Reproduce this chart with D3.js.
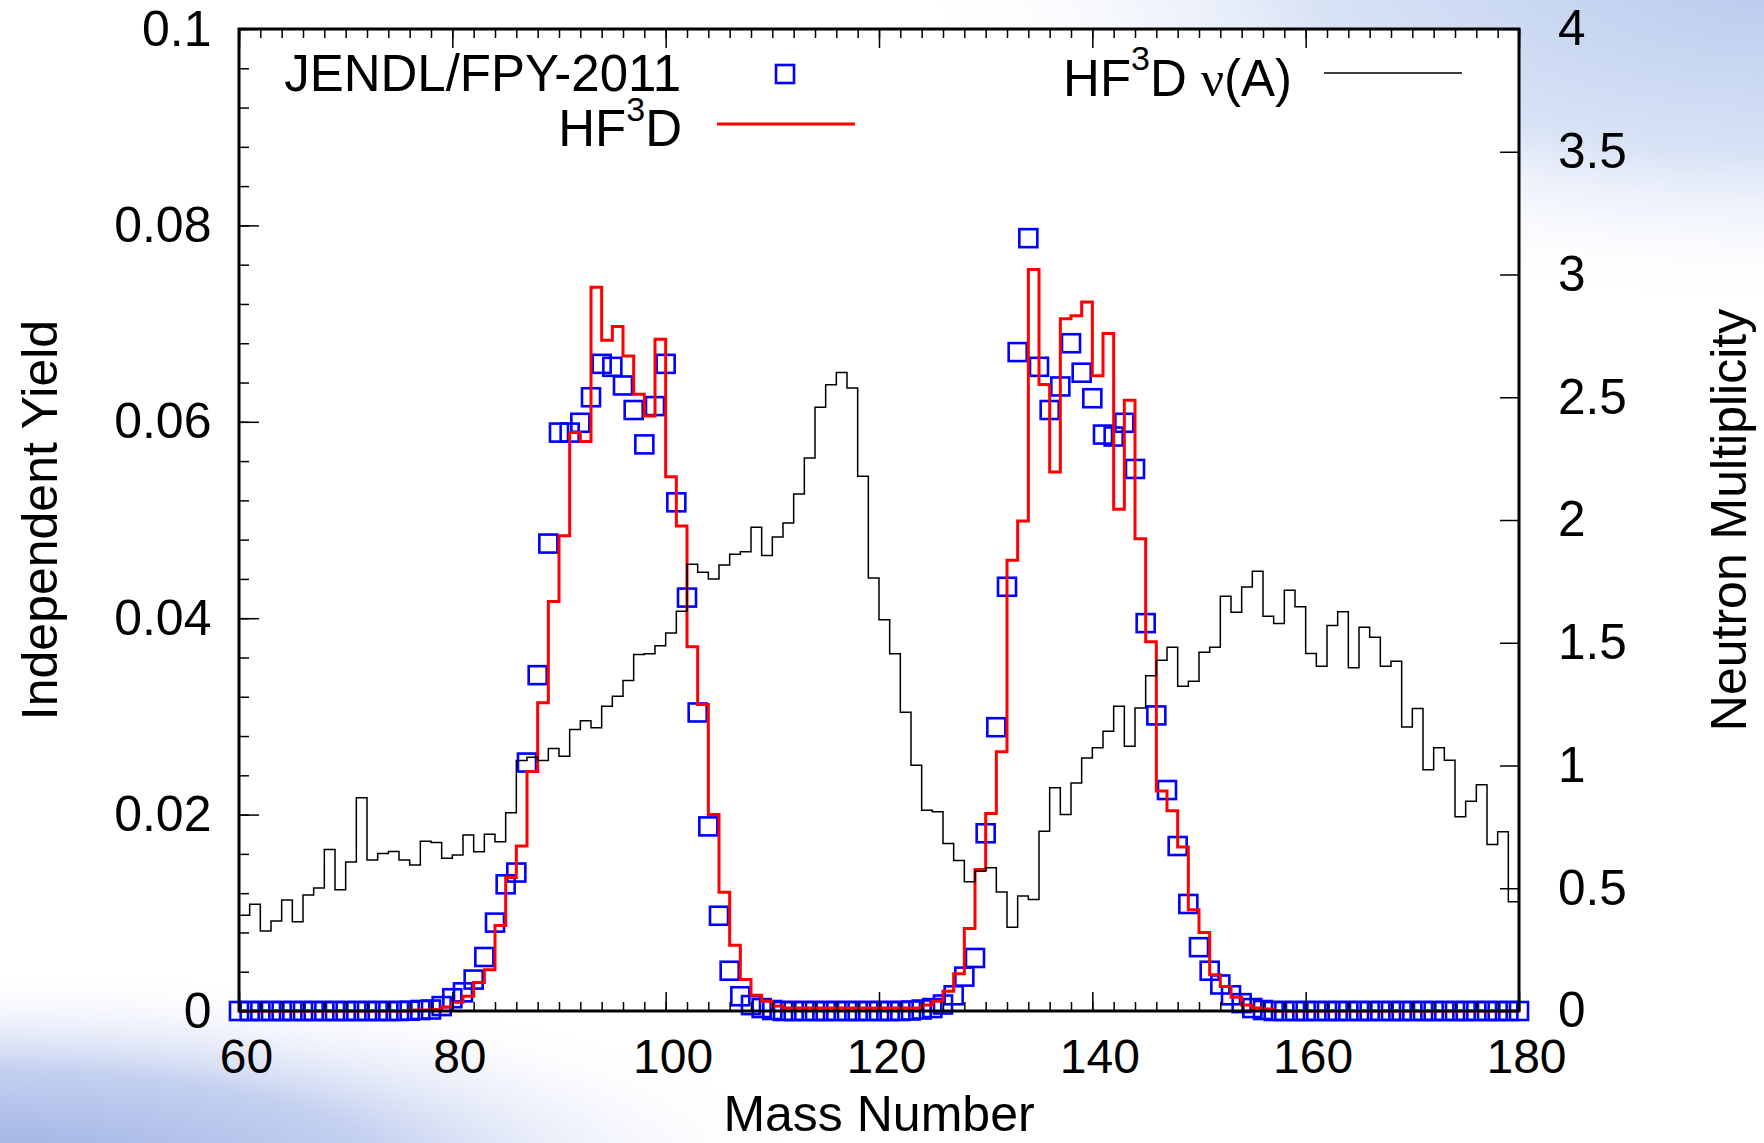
<!DOCTYPE html>
<html>
<head>
<meta charset="utf-8">
<script src="https://cdnjs.cloudflare.com/ajax/libs/d3/7.8.5/d3.min.js"></script>
<style>
  body { margin: 0; background: #fff; }
  svg { display: block; font-family: "Liberation Sans", Arial, Helvetica, sans-serif; }
</style>
</head>
<body>
<svg id="chart" width="1764" height="1143"></svg>
<script>
// mass number of first bin, JENDL points run 60..180, HF3D bins 60..179
const massStart = 60;

// JENDL/FPY-2011 independent yield, A = 60..180
const jendlYield = [
  0, 0, 0, 0, 0, 0, 0, 0, 0, 0, 0, 0, 0, 0, 0, 0,
  0.00003, 0.0001, 0.00015, 0.0005, 0.0013, 0.0019, 0.0032, 0.0055, 0.0090, 0.0129,
  0.0141, 0.0253, 0.0342, 0.0476, 0.0589, 0.0589, 0.0599, 0.0625, 0.0659, 0.0656,
  0.0637, 0.0612, 0.0577, 0.0616, 0.0659, 0.0518, 0.0421, 0.0304, 0.0188, 0.0097,
  0.0041, 0.0015, 0.0006, 0.0003, 0.0001,
  0, 0, 0, 0, 0, 0, 0, 0, 0, 0, 0, 0,
  0.00005, 0.00015, 0.0003, 0.00066, 0.0016, 0.0035, 0.0054, 0.0181, 0.0289, 0.0432,
  0.0671, 0.0787, 0.0656, 0.0612, 0.0636, 0.0680, 0.0650, 0.0624, 0.0587, 0.0585,
  0.0599, 0.0552, 0.0395, 0.0301, 0.0225, 0.0168, 0.0109, 0.0065, 0.0041, 0.0027,
  0.0016, 0.0008, 0.0003, 0.0001,
  0, 0, 0, 0, 0, 0, 0, 0, 0, 0, 0, 0, 0, 0, 0, 0, 0, 0, 0, 0, 0, 0, 0, 0
];

// HF3D independent yield, bins A = 60..179
const hf3dYield = [
  0, 0, 0, 0, 0, 0, 0, 0, 0, 0, 0, 0, 0, 0, 0, 0,
  0.0001, 0.0001, 0.00015, 0.0004, 0.0009, 0.0015, 0.0029, 0.0042, 0.0087, 0.0136,
  0.0168, 0.0244, 0.0314, 0.0417, 0.0484, 0.0589, 0.0580, 0.0737, 0.0683, 0.0697,
  0.0667, 0.0628, 0.0606, 0.0684, 0.0544, 0.0494, 0.0371, 0.0312, 0.0200, 0.0121,
  0.0067, 0.0032, 0.0016, 0.0010, 0.0005,
  0.0003, 0.0003, 0.0003, 0.0003, 0.0003, 0.0003, 0.0003, 0.0003, 0.0003, 0.0003,
  0.0003, 0.0003, 0.0003,
  0.0006, 0.0010, 0.0020, 0.0038, 0.0084, 0.0144, 0.0201, 0.0264, 0.0459, 0.0499,
  0.0755, 0.0638, 0.0549, 0.0705, 0.0708, 0.0722, 0.0647, 0.0690, 0.0511, 0.0622,
  0.0481, 0.0376, 0.0224, 0.0204, 0.0167, 0.0103, 0.0080, 0.0037, 0.0025, 0.0014,
  0.0006, 0.0003, 0.0002,
  0, 0, 0, 0, 0, 0, 0, 0, 0, 0, 0, 0, 0, 0, 0, 0, 0, 0, 0, 0, 0, 0, 0
];

// HF3D neutron multiplicity nu(A), bins A = 60..179
const hf3dNu = [
  0.390, 0.435, 0.326, 0.367, 0.452, 0.364, 0.473, 0.501, 0.658, 0.494,
  0.607, 0.869, 0.615, 0.642, 0.650, 0.615, 0.595, 0.691, 0.686, 0.622,
  0.635, 0.717, 0.649, 0.720, 0.689, 0.808, 1.020, 1.034, 1.020, 1.069,
  1.038, 1.147, 1.182, 1.154, 1.241, 1.282, 1.346, 1.452, 1.455, 1.488,
  1.540, 1.628, 1.820, 1.787, 1.760, 1.817, 1.860, 1.871, 1.970, 1.855,
  1.931, 1.988, 2.106, 2.253, 2.459, 2.551, 2.601, 2.538, 2.178, 1.764,
  1.594, 1.455, 1.217, 1.001, 0.818, 0.812, 0.682, 0.613, 0.526, 0.569,
  0.583, 0.485, 0.341, 0.468, 0.454, 0.732, 0.909, 0.800, 0.929, 1.031,
  1.072, 1.140, 1.241, 1.078, 1.234, 1.366, 1.429, 1.482, 1.323, 1.343,
  1.461, 1.482, 1.689, 1.624, 1.727, 1.791, 1.608, 1.578, 1.714, 1.647,
  1.456, 1.404, 1.570, 1.626, 1.398, 1.563, 1.522, 1.404, 1.425, 1.157,
  1.232, 0.983, 1.072, 1.021, 0.791, 0.854, 0.922, 0.678, 0.730, 0.445
];

const xDomain = [60, 180];
const xTicks = [60, 80, 100, 120, 140, 160, 180];
const yTicks = [0, 0.02, 0.04, 0.06, 0.08, 0.1];
const yTickLabels = ["0", "0.02", "0.04", "0.06", "0.08", "0.1"];
const y2Ticks = [0, 0.5, 1, 1.5, 2, 2.5, 3, 3.5, 4];
const y2TickLabels = ["0", "0.5", "1", "1.5", "2", "2.5", "3", "3.5", "4"];

const W = 1764, H = 1143;
const margin = {left: 239, top: 29, right: 245, bottom: 132};
const width = W - margin.left - margin.right;
const height = H - margin.top - margin.bottom;

const svg = d3.select("#chart");

// slide background: white with blue corner shading
const defs = svg.append("defs");
const bl = defs.append("radialGradient").attr("id", "bl")
  .attr("gradientUnits", "userSpaceOnUse")
  .attr("cx", 0).attr("cy", 0).attr("r", 1)
  .attr("gradientTransform", "translate(-40,1170) scale(860,205)");
bl.append("stop").attr("offset", 0).attr("stop-color", "#98ade2");
bl.append("stop").attr("offset", 0.5).attr("stop-color", "#c5d1f0");
bl.append("stop").attr("offset", 1).attr("stop-color", "#ffffff").attr("stop-opacity", 0);
const tr = defs.append("radialGradient").attr("id", "tr")
  .attr("gradientUnits", "userSpaceOnUse")
  .attr("cx", 0).attr("cy", 0).attr("r", 1)
  .attr("gradientTransform", "translate(1800,-30) scale(900,340)");
tr.append("stop").attr("offset", 0).attr("stop-color", "#b6c8ec");
tr.append("stop").attr("offset", 0.55).attr("stop-color", "#d9e3f6");
tr.append("stop").attr("offset", 1).attr("stop-color", "#ffffff").attr("stop-opacity", 0);

svg.append("rect").attr("width", W).attr("height", H).attr("fill", "#fff");
svg.append("rect").attr("width", W).attr("height", H).attr("fill", "url(#bl)");
svg.append("rect").attr("width", W).attr("height", H).attr("fill", "url(#tr)");

const g = svg.append("g").attr("transform", `translate(${margin.left},${margin.top})`);
g.append("rect").attr("width", width).attr("height", height).attr("fill", "#fff");

const x = d3.scaleLinear().domain(xDomain).range([0, width]);
const y = d3.scaleLinear().domain([0, 0.1]).range([height, 0]);
const y2 = d3.scaleLinear().domain([0, 4]).range([height, 0]);

const jendl = jendlYield.map((v, i) => ({a: massStart + i, v: v}));
const hf3d = hf3dYield.map((v, i) => ({a: massStart + i, v: v}));
const nu = hf3dNu.map((v, i) => ({a: massStart + i, v: v}));
// close the last histogram bin at its right edge
hf3d.push({a: hf3d[hf3d.length - 1].a + 1, v: hf3d[hf3d.length - 1].v});
nu.push({a: nu[nu.length - 1].a + 1, v: nu[nu.length - 1].v});

// JENDL squares
g.append("g").selectAll("rect")
  .data(jendl)
  .enter()
  .append("rect")
    .attr("x", d => x(d.a) - 9)
    .attr("y", d => y(d.v) - 9)
    .attr("width", 18)
    .attr("height", 18)
    .attr("fill", "none")
    .attr("stroke", "#0000ff")
    .attr("stroke-width", 2.6);

// HF3D yield histogram
g.append("path")
  .datum(hf3d)
  .attr("fill", "none")
  .attr("stroke", "#ff0000")
  .attr("stroke-width", 3)
  .attr("d", d3.line().x(d => x(d.a)).y(d => y(d.v)).curve(d3.curveStepAfter));

// HF3D nu(A) on right axis
g.append("path")
  .datum(nu)
  .attr("fill", "none")
  .attr("stroke", "#000")
  .attr("stroke-width", 1.5)
  .attr("d", d3.line().x(d => x(d.a)).y(d => y2(d.v)).curve(d3.curveStepAfter));

// axes, ticks pointing inward
function styleAxis(sel, size) {
  sel.select(".domain").remove();
  sel.selectAll(".tick line").attr("stroke", "#000").attr("stroke-width", 1.5);
  sel.selectAll("text").attr("fill", "#000").style("font-size", (size || 48) + "px")
    .style("font-family", "'Liberation Sans', Arial, Helvetica, sans-serif");
}

g.append("g").attr("transform", `translate(0,${height})`)
  .call(d3.axisBottom(x).tickValues(d3.range(60, 181, 2)).tickSize(-9).tickFormat(""))
  .call(styleAxis);
g.append("g").attr("transform", `translate(0,${height})`)
  .call(d3.axisBottom(x).tickValues(xTicks).tickSizeInner(-19).tickSizeOuter(0).tickPadding(28))
  .call(styleAxis, 48)
  .selectAll("text").attr("dx", 7);

g.append("g")
  .call(d3.axisTop(x).tickValues(d3.range(60, 181, 2)).tickSize(-9).tickFormat(""))
  .call(styleAxis);
g.append("g")
  .call(d3.axisTop(x).tickValues(xTicks).tickSize(-19).tickFormat(""))
  .call(styleAxis);

g.append("g")
  .call(d3.axisLeft(y).tickValues(d3.range(0, 0.1001, 0.004)).tickSize(-10).tickFormat(""))
  .call(styleAxis);
g.append("g")
  .call(d3.axisLeft(y).tickValues(yTicks).tickFormat((d, i) => yTickLabels[i])
    .tickSizeInner(-20).tickSizeOuter(0).tickPadding(27.5))
  .call(styleAxis, 50);

g.append("g").attr("transform", `translate(${width},0)`)
  .call(d3.axisRight(y2).tickValues(y2Ticks).tickFormat((d, i) => y2TickLabels[i])
    .tickSizeInner(-19).tickSizeOuter(0).tickPadding(39))
  .call(styleAxis, 49.5);

g.append("rect")
  .attr("width", width).attr("height", height)
  .attr("fill", "none").attr("stroke", "#000").attr("stroke-width", 3);

// axis titles
svg.append("text")
  .attr("x", margin.left + width / 2).attr("y", 1131)
  .attr("text-anchor", "middle").style("font-size", "50px")
  .text("Mass Number");
svg.append("text")
  .attr("transform", `translate(57,${margin.top + height / 2}) rotate(-90)`)
  .attr("text-anchor", "middle").style("font-size", "50px")
  .text("Independent Yield");
svg.append("text")
  .attr("transform", `translate(1746,${margin.top + height / 2}) rotate(-90)`)
  .attr("text-anchor", "middle").style("font-size", "50px")
  .text("Neutron Multiplicity");

// legend
const leg = svg.append("g").style("font-size", "51px");
leg.append("text").attr("x", 681).attr("y", 91).attr("text-anchor", "end")
  .text("JENDL/FPY-2011");
leg.append("rect").attr("x", 776).attr("y", 65).attr("width", 18).attr("height", 18)
  .attr("fill", "none").attr("stroke", "#0000ff").attr("stroke-width", 2.6);

const hfText = leg.append("text").attr("x", 682).attr("y", 146).attr("text-anchor", "end");
hfText.append("tspan").text("HF");
hfText.append("tspan").attr("dy", -25).style("font-size", "34px").text("3");
hfText.append("tspan").attr("dy", 25).text("D");
leg.append("line").attr("x1", 717).attr("x2", 855).attr("y1", 124).attr("y2", 124)
  .attr("stroke", "#ff0000").attr("stroke-width", 3);

const nuText = leg.append("text").attr("x", 1292).attr("y", 96).attr("text-anchor", "end");
nuText.append("tspan").text("HF");
nuText.append("tspan").attr("dy", -26).style("font-size", "34px").text("3");
nuText.append("tspan").attr("dy", 26).text("D ");
nuText.append("tspan").style("font-family", "'Liberation Serif', 'DejaVu Serif', serif").text("ν");
nuText.append("tspan").text("(A)");
leg.append("line").attr("x1", 1324).attr("x2", 1462).attr("y1", 73).attr("y2", 73)
  .attr("stroke", "#000").attr("stroke-width", 1.5);
</script>
</body>
</html>
